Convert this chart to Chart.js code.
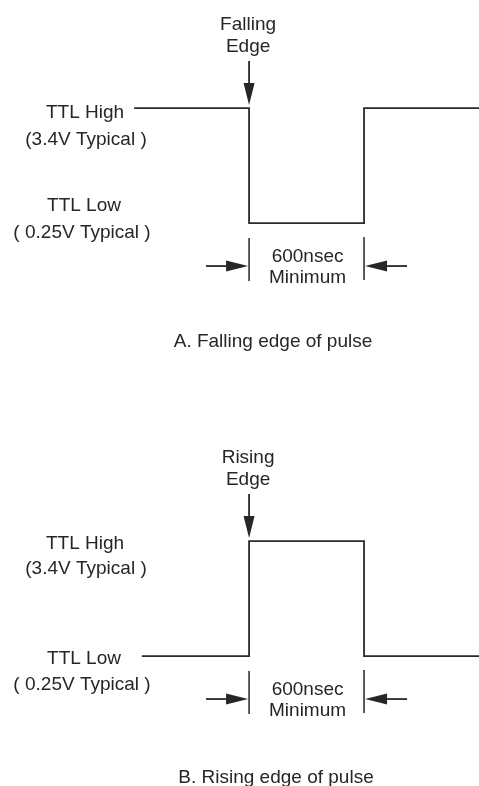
<!DOCTYPE html>
<html>
<head>
<meta charset="utf-8">
<script src="https://cdn.jsdelivr.net/npm/chart.js@4"></script>
<style>
  html, body { margin: 0; padding: 0; background: #fff; }
  body { width: 479px; height: 786px; position: relative; overflow: hidden; }
  .panel { position: absolute; left: 0; width: 479px; height: 353px; }
</style>
</head>
<body>
<div class="panel" style="top:0"><canvas id="graficoBajada" width="479" height="353"></canvas></div>
<div class="panel" style="top:433px"><canvas id="graficoSubida" width="479" height="353"></canvas></div>
<script>
// tiempo en nsec, voltaje en V
const tiempoBajada = [-600, 0, 0, 600, 600, 1200];
const voltajeBajada = [3.4, 3.4, 0.25, 0.25, 3.4, 3.4];
const tiempoSubida = [-560, 0, 0, 600, 600, 1200];
const voltajeSubida = [0.25, 0.25, 3.4, 3.4, 0.25, 0.25];

const nivelAlto = 3.4;
const nivelBajo = 0.25;
const anchoMinimo = 600;

const textoAlto = ["TTL High", "(3.4V Typical )"];
const textoBajo = ["TTL Low", "( 0.25V Typical )"];
const textoAncho = [anchoMinimo + "nsec", "Minimum"];

const FUENTE = '19px "Liberation Sans", Arial, sans-serif';
const TINTA = "#262626";

function flecha(ctx, x1, y1, x2, y2) {
    // punta en (x2, y2)
    const ang = Math.atan2(y2 - y1, x2 - x1);
    const largo = 22, medio = 5.5;
    const bx = x2 - Math.cos(ang) * largo, by = y2 - Math.sin(ang) * largo;
    ctx.beginPath();
    ctx.moveTo(x1, y1);
    ctx.lineTo(bx, by);
    ctx.stroke();
    ctx.beginPath();
    ctx.moveTo(x2, y2);
    ctx.lineTo(bx - Math.sin(ang) * medio, by + Math.cos(ang) * medio);
    ctx.lineTo(bx + Math.sin(ang) * medio, by - Math.cos(ang) * medio);
    ctx.closePath();
    ctx.fill();
}

const anotaciones = {
    id: "anotaciones",
    afterDatasetsDraw(chart, args, opts) {
        const ctx = chart.ctx;
        const x = chart.scales.x, y = chart.scales.y;
        const x0 = x.getPixelForValue(0);
        const x1 = x.getPixelForValue(anchoMinimo);
        const yAlto = y.getPixelForValue(nivelAlto);
        const yBajo = y.getPixelForValue(nivelBajo);

        ctx.save();
        ctx.font = FUENTE;
        ctx.fillStyle = TINTA;
        ctx.strokeStyle = TINTA;
        ctx.textAlign = "center";
        ctx.textBaseline = "alphabetic";

        // etiqueta del flanco + flecha
        ctx.fillText(opts.flanco, x0 - 1, yAlto - 78);
        ctx.fillText("Edge", x0 - 1, yAlto - 56);
        ctx.lineWidth = 1.8;
        flecha(ctx, x0, yAlto - 47, x0, yAlto - 3);

        // niveles
        ctx.fillText(textoAlto[0], 85, yAlto + opts.alto[0]);
        ctx.fillText(textoAlto[1], 86, yAlto + opts.alto[1]);
        ctx.fillText(textoBajo[0], 84, yBajo + opts.bajo[0]);
        ctx.fillText(textoBajo[1], 82, yBajo + opts.bajo[1]);

        // cota de ancho
        const yCota = yBajo + 43;
        ctx.lineWidth = 1.5;
        ctx.beginPath();
        ctx.moveTo(x0, yBajo + 15); ctx.lineTo(x0, yBajo + 58);
        ctx.moveTo(x1, yBajo + 14); ctx.lineTo(x1, yBajo + 57);
        ctx.stroke();
        ctx.lineWidth = 1.8;
        flecha(ctx, x0 - 43, yCota, x0 - 1, yCota);
        flecha(ctx, x1 + 43, yCota, x1 + 1, yCota);
        const xt = (x0 + x1) / 2 + 1;
        ctx.fillText(textoAncho[0], xt, yBajo + 39);
        ctx.fillText(textoAncho[1], xt, yBajo + 60);

        // pie
        ctx.fillText(opts.pie, opts.xPie, opts.yPie);
        ctx.restore();
    }
};

function crearGrafico(id, tiempos, voltajes, extra) {
    return new Chart(document.getElementById(id).getContext("2d"), {
        type: "line",
        data: {
            datasets: [{
                data: tiempos.map((t, i) => ({ x: t, y: voltajes[i] })),
                borderColor: "#2a2a2a",
                borderWidth: 1.8,
                pointRadius: 0,
                tension: 0,
                fill: false
            }]
        },
        options: {
            responsive: false,
            animation: false,
            devicePixelRatio: 1,
            layout: { padding: 0 },
            scales: {
                x: { type: "linear", min: -1300, max: 1200, display: false },
                y: { type: "linear", min: -3.31, max: 6.36, display: false }
            },
            plugins: {
                legend: { display: false },
                tooltip: { enabled: false },
                anotaciones: extra
            }
        },
        plugins: [anotaciones]
    });
}

crearGrafico("graficoBajada", tiempoBajada, voltajeBajada, {
    flanco: "Falling",
    alto: [10, 37],
    bajo: [-12, 15],
    pie: "A. Falling edge of pulse",
    xPie: 273,
    yPie: 347
});

crearGrafico("graficoSubida", tiempoSubida, voltajeSubida, {
    flanco: "Rising",
    alto: [8, 33],
    bajo: [8, 34],
    pie: "B. Rising edge of pulse",
    xPie: 276,
    yPie: 350
});
</script>
</body>
</html>
